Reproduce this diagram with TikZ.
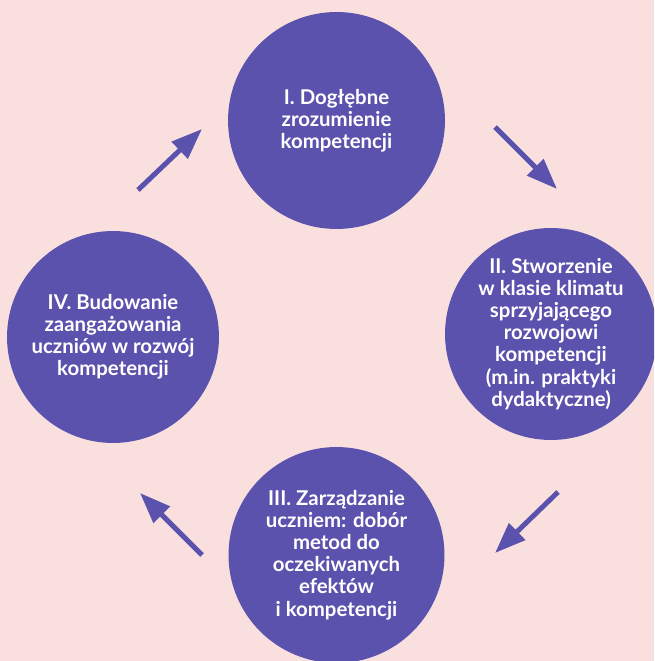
\documentclass[tikz,border=0pt]{standalone}
\usepackage{fontspec}
\setmainfont{Lato}
\usetikzlibrary{arrows.meta}
\definecolor{bgpink}{RGB}{249,224,223}
\definecolor{stagepurple}{RGB}{91,82,174}

\begin{document}
\begin{tikzpicture}[x=0.02cm, y=-0.02cm,
        stage/.style={circle, fill=stagepurple, text=white, inner sep=0pt, align=center,
            font=\fontsize{11.6}{12.6}\selectfont\bfseries},
        cyclearrow/.style={draw=stagepurple, line width=0.1cm,
            -{Triangle[length=17.6pt, width=12.8pt]}}]
        \useasboundingbox (0,0) rectangle (654,661);
        \clip (0,0) rectangle (654,661);
        \fill[bgpink] (0,0) rectangle (654,661);
        % the four stages
        \node[stage, minimum size=4.34cm] (understand) at (336.5,120.5) {I. Dogłębne\\zrozumienie\\kompetencji};
        \node[stage, minimum size=4.24cm] (climate) at (551,334) {II. Stworzenie\\w klasie klimatu\\sprzyjającego\\rozwojowi\\kompetencji\\(m.in. praktyki\\dydaktyczne)};
        \node[stage, minimum size=4.32cm] (manage) at (336.5,555) {III. Zarządzanie\\uczniem: dobór\\metod do\\oczekiwanych\\efektów\\i kompetencji};
        \node[stage, minimum size=4.24cm] (engage) at (113,337) {IV. Budowanie\\zaangażowania\\uczniów w rozwój\\kompetencji};
        % arrow ends
        \coordinate (a1s) at (138,190);
        \coordinate (a1e) at (202,129);
        \coordinate (a2s) at (495,127);
        \coordinate (a2e) at (557,189);
        \coordinate (a3s) at (558,492);
        \coordinate (a3e) at (495,553);
        \coordinate (a4s) at (202,555);
        \coordinate (a4e) at (140,493);
        \draw[cyclearrow] (a1s) -- (a1e);
        \draw[cyclearrow] (a2s) -- (a2e);
        \draw[cyclearrow] (a3s) -- (a3e);
        \draw[cyclearrow] (a4s) -- (a4e);
    \end{tikzpicture}
\end{document}
